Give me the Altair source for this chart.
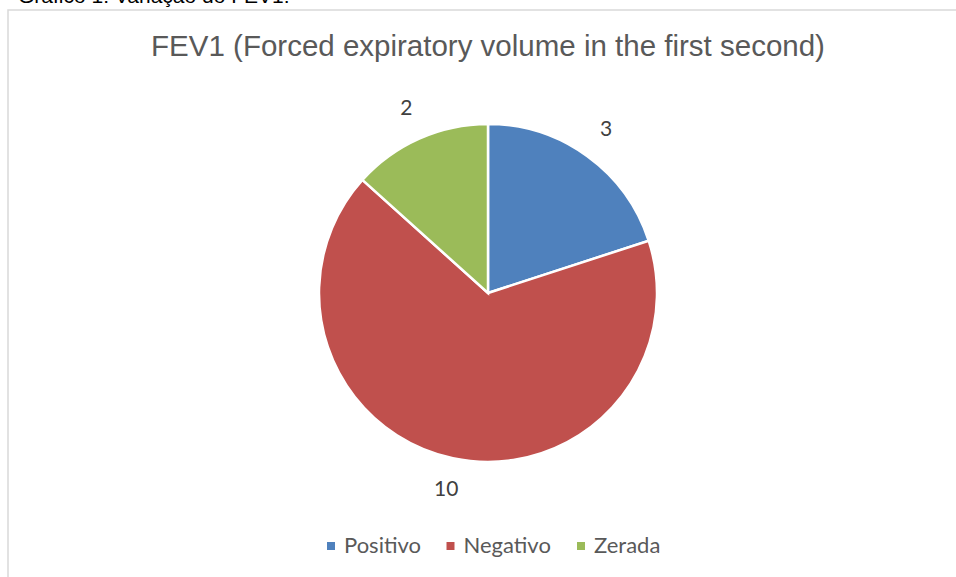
import altair as alt
import pandas as pd

categories = ["Positivo", "Negativo", "Zerada"]
values = [3, 10, 2]
colors = ["#4F81BD", "#C0504D", "#9BBB59"]

df = pd.DataFrame({"cat": categories, "val": values, "ord": [0, 1, 2]})

CX, CY, R = 488, 293, 169

base = alt.Chart(df).encode(
    theta=alt.Theta("val:Q", stack=True),
    order=alt.Order("ord:Q"),
)

pie = base.mark_arc(radius=R, stroke="white", strokeWidth=2.5).encode(
    x=alt.value(CX), y=alt.value(CY),
    color=alt.Color("cat:N", scale=alt.Scale(domain=categories, range=colors),
                    legend=alt.Legend(orient="none", legendX=320, legendY=535,
                                      direction="horizontal", title=None,
                                      symbolType="square", symbolSize=64,
                                      labelFont="Lato", labelFontSize=22,
                                      labelColor="#595959", columnPadding=18.5,
                                      symbolStrokeWidth=0, labelOffset=2)),
)

labels = base.mark_text(radius=201, font="Lato", fontSize=21, color="#404040").encode(
    x=alt.value(CX), y=alt.value(CY), text="val:Q"
)

title_df = pd.DataFrame({"t": ["FEV1 (Forced expiratory volume in the first second)"]})
title = alt.Chart(title_df).mark_text(font="Liberation Sans", fontSize=29.5, color="#595959",
                                      baseline="alphabetic").encode(
    x=alt.value(488), y=alt.value(56), text="t:N")

cap_df = pd.DataFrame({"t": ["Gráfico 1: Variação do FEV1:"]})
cap = alt.Chart(cap_df).mark_text(font="Liberation Sans", fontSize=21, color="#000000",
                                  align="left", baseline="alphabetic").encode(
    x=alt.value(18), y=alt.value(3), text="t:N")

frame = alt.Chart(title_df).mark_rect(fill=None, stroke="#D9D9D9", strokeWidth=1.5).encode(
    x=alt.value(8), y=alt.value(10), x2=alt.value(1000), y2=alt.value(700))

chart = alt.layer(frame, cap, title, pie, labels).properties(
    width=956, height=577, padding=0, autosize="none"
).configure_view(stroke=None)

chart.save("out.html", embed_options={"renderer": "svg", "actions": False})
